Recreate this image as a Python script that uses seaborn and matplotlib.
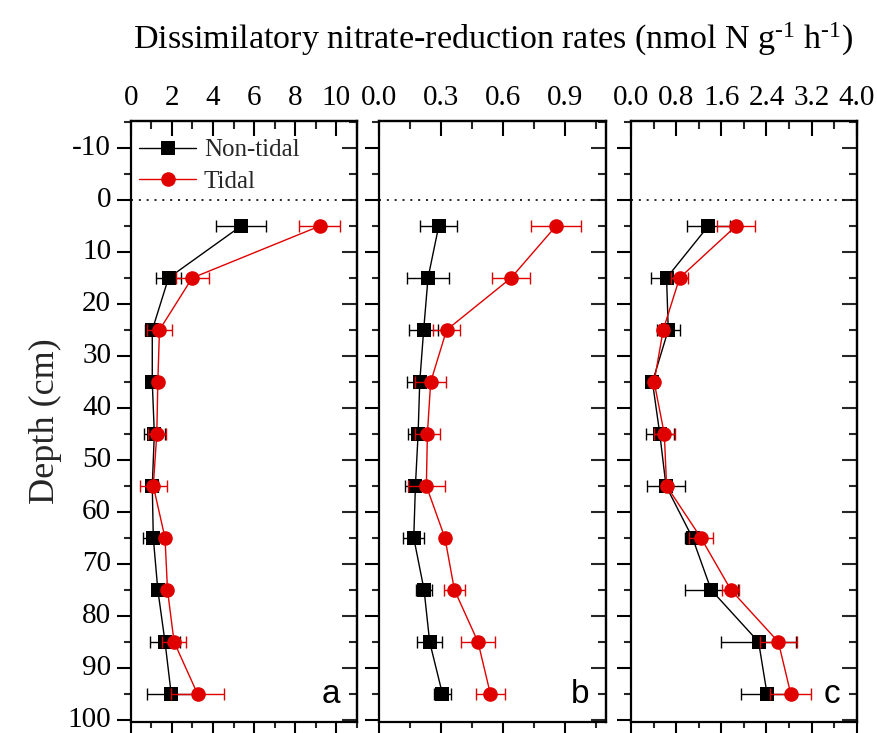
import matplotlib
matplotlib.use("Agg")
import matplotlib.pyplot as plt
import seaborn as sns
import numpy as np
from matplotlib.ticker import FixedLocator, MultipleLocator, NullFormatter

# Sampling depths (cm)
depth = [5, 15, 25, 35, 45, 55, 65, 75, 85, 95]

# Panel a
a_nontidal = [5.37, 1.84, 1.05, 1.05, 1.15, 1.05, 1.10, 1.32, 1.67, 1.97]
a_nontidal_sd = [1.20, 0.60, 0.35, 0.10, 0.50, 0.30, 0.50, 0.10, 0.75, 1.20]
a_tidal = [9.20, 2.99, 1.40, 1.32, 1.27, 1.10, 1.67, 1.79, 2.11, 3.25]
a_tidal_sd = [1.00, 0.80, 0.60, 0.10, 0.45, 0.65, 0.15, 0.10, 0.60, 1.30]

# Panel b
b_nontidal = [0.290, 0.238, 0.217, 0.198, 0.190, 0.177, 0.169, 0.219, 0.246, 0.308]
b_nontidal_sd = [0.090, 0.100, 0.070, 0.060, 0.050, 0.050, 0.050, 0.040, 0.060, 0.040]
b_tidal = [0.858, 0.640, 0.328, 0.251, 0.235, 0.230, 0.320, 0.366, 0.480, 0.540]
b_tidal_sd = [0.120, 0.090, 0.065, 0.075, 0.060, 0.090, 0.020, 0.050, 0.080, 0.070]

# Panel c
c_nontidal = [1.37, 0.63, 0.66, 0.38, 0.51, 0.62, 1.09, 1.42, 2.26, 2.41]
c_nontidal_sd = [0.38, 0.28, 0.20, 0.05, 0.25, 0.34, 0.14, 0.47, 0.66, 0.46]
c_tidal = [1.86, 0.86, 0.57, 0.41, 0.59, 0.63, 1.24, 1.77, 2.61, 2.83]
c_tidal_sd = [0.33, 0.15, 0.08, 0.05, 0.19, 0.05, 0.22, 0.15, 0.33, 0.36]

# Axis tick labels
a_ticklabels = ["0", "2", "4", "6", "8", "10"]
b_ticklabels = ["0.0", "0.3", "0.6", "0.9"]
c_ticklabels = ["0.0", "0.8", "1.6", "2.4", "3.2", "4.0"]
depth_ticklabels = ["-10", "0", "10", "20", "30", "40", "50", "60", "70", "80", "90", "100"]

panel_letters = ["a", "b", "c"]
series_labels = ["Non-tidal", "Tidal"]

sns.set_theme(style="white")
serif = ["Liberation Serif", "DejaVu Serif"]
plt.rcParams["font.family"] = serif
plt.rcParams["mathtext.fontset"] = "custom"
plt.rcParams["mathtext.rm"] = "Liberation Serif"
plt.rcParams["mathtext.it"] = "Liberation Serif:italic"
plt.rcParams["mathtext.default"] = "regular"
plt.rcParams["axes.unicode_minus"] = False

fig = plt.figure(figsize=(8.77, 7.33), dpi=100)

panels = [
    dict(rect=[0.149, 0.015, 0.258, 0.820], xlim=(0, 11), minor=1.0,
         nt=a_nontidal, nt_sd=a_nontidal_sd, t=a_tidal, t_sd=a_tidal_sd,
         labels=a_ticklabels),
    dict(rect=[0.432, 0.015, 0.259, 0.820], xlim=(0, 1.1), minor=0.15,
         nt=b_nontidal, nt_sd=b_nontidal_sd, t=b_tidal, t_sd=b_tidal_sd,
         labels=b_ticklabels),
    dict(rect=[0.7195, 0.015, 0.2575, 0.820], xlim=(0, 4.0), minor=0.4,
         nt=c_nontidal, nt_sd=c_nontidal_sd, t=c_tidal, t_sd=c_tidal_sd,
         labels=c_ticklabels),
]

black = "#000000"
red = "#e00000"
depth_ticks = [float(s) for s in depth_ticklabels]

for i, p in enumerate(panels):
    ax = fig.add_axes(p["rect"])
    ax.set_facecolor("white")

    # error bars first, then lines with markers on top
    ax.errorbar(p["nt"], depth, xerr=p["nt_sd"], fmt="none", ecolor=black,
                elinewidth=1.0, capsize=4.5, capthick=1.0, zorder=2)
    sns.lineplot(x=p["nt"], y=depth, sort=False, orient="y", ax=ax,
                 color=black, marker="s", markersize=9.5, markeredgewidth=0,
                 linewidth=1.0, label=series_labels[0], legend=False, zorder=3)
    ax.errorbar(p["t"], depth, xerr=p["t_sd"], fmt="none", ecolor=red,
                elinewidth=1.0, capsize=4.5, capthick=1.0, zorder=4)
    sns.lineplot(x=p["t"], y=depth, sort=False, orient="y", ax=ax,
                 color=red, marker="o", markersize=10.5, markeredgewidth=0,
                 linewidth=1.0, label=series_labels[1], legend=False, zorder=5)

    ax.axhline(0, color=black, linestyle=(0, (1.2, 3.5)), linewidth=1.2, zorder=1)

    ax.set_xlim(*p["xlim"])
    ax.set_ylim(100.4, -15.2)
    ax.set_xlabel("")
    ax.set_ylabel("")

    for s in ax.spines.values():
        s.set_linewidth(1.6)
        s.set_color(black)

    # bottom: outward ticks, no labels
    xt = [float(s) for s in p["labels"]]
    ax.xaxis.set_major_locator(FixedLocator(xt))
    ax.xaxis.set_minor_locator(MultipleLocator(p["minor"]))
    ax.tick_params(axis="x", which="major", direction="out", length=8, width=1.5,
                   bottom=True, top=False, labelbottom=False, colors=black)
    ax.tick_params(axis="x", which="minor", direction="out", length=4, width=1.5,
                   bottom=True, top=False)

    # left: outward ticks
    ax.yaxis.set_major_locator(FixedLocator(depth_ticks))
    ax.yaxis.set_minor_locator(MultipleLocator(5))
    ax.tick_params(axis="y", which="major", direction="out", length=10, width=1.5,
                   left=True, right=False, labelleft=(i == 0), labelsize=21,
                   pad=4, colors=black)
    ax.tick_params(axis="y", which="minor", direction="out", length=5, width=1.5,
                   left=True, right=False)
    if i == 0:
        ax.set_yticklabels(depth_ticklabels)
        for lab in ax.get_yticklabels():
            lab.set_verticalalignment("center")

    # top: inward ticks with labels
    top = ax.secondary_xaxis("top")
    top.xaxis.set_major_locator(FixedLocator(xt))
    top.xaxis.set_minor_locator(MultipleLocator(p["minor"]))
    top.set_xticklabels(p["labels"])
    top.tick_params(axis="x", which="major", direction="in", length=11, width=1.5,
                    labelsize=21, pad=7, colors=black)
    top.tick_params(axis="x", which="minor", direction="in", length=6, width=1.5)
    top.spines["top"].set_linewidth(1.6)

    # right: inward ticks, no labels
    right = ax.secondary_yaxis("right")
    right.yaxis.set_major_locator(FixedLocator(depth_ticks))
    right.yaxis.set_minor_locator(MultipleLocator(5))
    right.yaxis.set_major_formatter(NullFormatter())
    right.tick_params(axis="y", which="major", direction="in", length=11, width=1.5)
    right.tick_params(axis="y", which="minor", direction="in", length=6, width=1.5)
    right.spines["right"].set_linewidth(1.6)

    ax.text(0.925, 0.045, panel_letters[i], transform=ax.transAxes,
            ha="right", va="center", fontsize=24,
            family=["Liberation Sans", "DejaVu Sans"], color=black)

    if i == 0:
        ax.set_ylabel("Depth (cm)", fontsize=26, labelpad=4)
        ax.legend(loc="upper left", bbox_to_anchor=(-0.03, 0.995), frameon=False,
                  fontsize=18, handlelength=2.3, handletextpad=0.3,
                  labelspacing=0.35, borderaxespad=0.2)

fig.text(0.562, 0.934,
         r"Dissimilatory nitrate-reduction rates (nmol N g$^{\text{-1}}$ h$^{\text{-1}}$)",
         ha="center", va="baseline", fontsize=24.5, color=black)

fig.savefig("out.png", dpi=100, facecolor="white")
